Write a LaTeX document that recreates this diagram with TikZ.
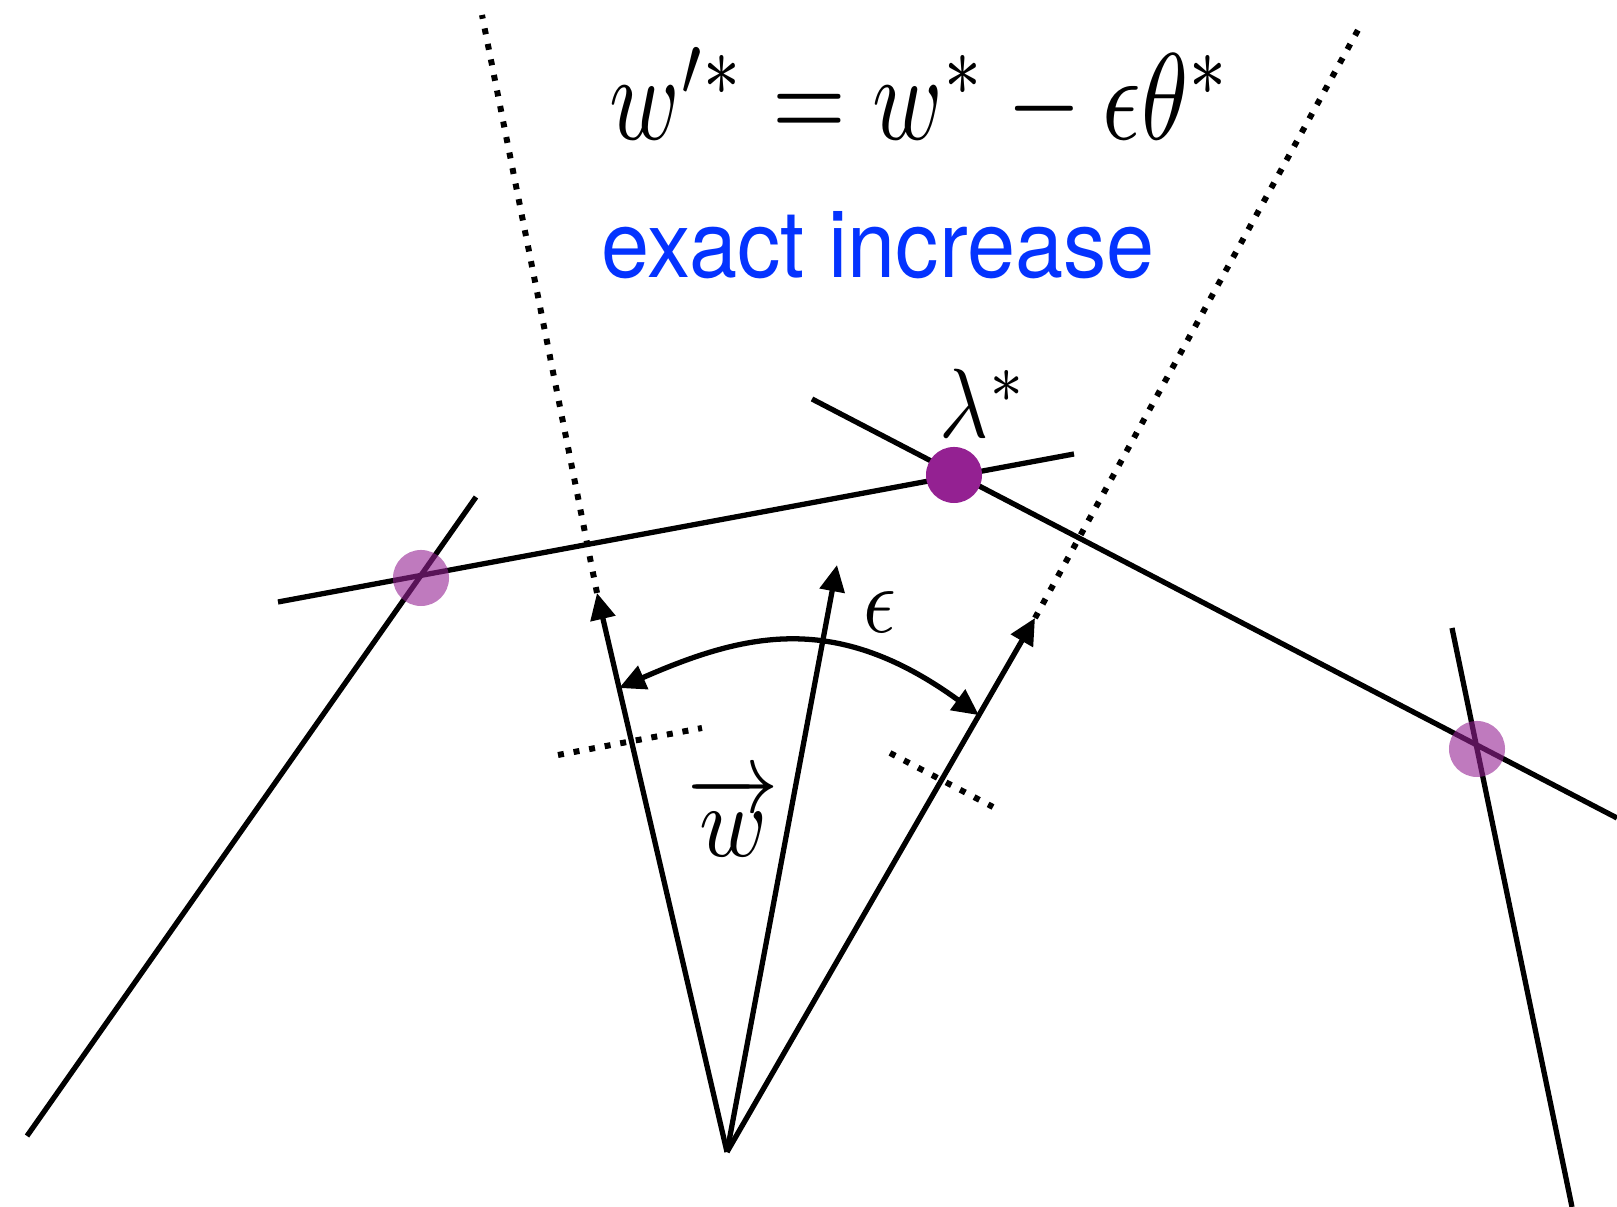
\documentclass[tikz,border=0pt]{standalone}
\usepackage{amsmath}
\usepackage{graphicx}
\usepackage{fontspec}
\setsansfont{TeX Gyre Heros}
\usepackage{tikz}
\usetikzlibrary{arrows.meta, calc}
\definecolor{exactblue}{HTML}{0433FF}
\definecolor{plum}{HTML}{942192}

\begin{document}
\begin{tikzpicture}[x=0.01cm, y=-0.01cm,
  bound/.style={line width=1.5pt},
  ray/.style={line width=1.5pt, -{Triangle[length=7.5pt, width=7pt]}},
  dots/.style={line width=1.7pt, dash pattern=on 1.7pt off 2.8pt},
  bigdot/.style={circle, fill=plum, minimum size=0.56cm, inner sep=0pt},
  softdot/.style={bigdot, fill opacity=0.6},
  mlabel/.style={inner sep=0pt}
]
  \useasboundingbox (0,0) rectangle (1617,1207);

  % constraint lines
  \coordinate (a1) at (27,1136);   \coordinate (a2) at (476,497);
  \coordinate (b1) at (278,602);   \coordinate (b2) at (1074,454);
  \coordinate (c1) at (812,399);   \coordinate (c2) at (1617,818);
  \coordinate (d1) at (1452,628);  \coordinate (d2) at (1572,1207);
  \draw[bound] (a1) -- (a2);
  \draw[bound] (b1) -- (b2);
  \draw[bound] (c1) -- (c2);
  \draw[bound] (d1) -- (d2);

  % vectors
  \coordinate (o)  at (727,1152);
  \coordinate (tl) at (597,593);
  \coordinate (tm) at (837,565);
  \coordinate (tr) at (1035,618);
  \coordinate (topl) at (482,15);
  \coordinate (topr) at (1358,30);
  \draw[ray] (o) -- (tl);
  \draw[ray] (o) -- (tm);
  \draw[ray] (o) -- (tr);
  \draw[dots] (tl) -- (topl);
  \draw[dots] (tr) -- (topr);

  \coordinate (al) at ($(o)!0.83!(tl)$);
  \coordinate (ar) at ($(o)!0.818!(tr)$);
  \draw[ray, {Triangle[length=7.5pt, width=7pt]}-{Triangle[length=7.5pt, width=7pt]}]
    (al) .. controls (747,632) and (837,612) .. (ar);

  \coordinate (sl1) at (558,755); \coordinate (sl2) at (702,728);
  \coordinate (sr1) at (890,753); \coordinate (sr2) at (993,807);
  \draw[dots] (sl1) -- (sl2);
  \draw[dots] (sr1) -- (sr2);

  % vertices
  \node[softdot] (pl) at (421,578) {};
  \node[softdot] (pr) at (1477,749) {};
  \node[bigdot]  (lam) at (954,475) {};

  % labels
  \node[mlabel, anchor=base] (eq) at (921,140)
    {\scalebox{2.7}[3.5]{$w'^* = w^* - \epsilon\theta^*$}};
  \node[mlabel, anchor=base, text=exactblue, font=\sffamily] (inc) at (878,278)
    {\scalebox{1}[1.08]{\fontsize{24.6}{29}\selectfont exact increase}};
  \node[mlabel, anchor=base] (lamlbl) at (984,438) {\scalebox{2.4}[2.8]{$\lambda^*$}};
  \node[mlabel] (eps) at (880,612) {\scalebox{2.3}[2.7]{$\epsilon$}};
  \node[mlabel] (wvec) at (733,816) {\scalebox{2.6}[2.9]{$\overrightarrow{w}$}};
\end{tikzpicture}
\end{document}
